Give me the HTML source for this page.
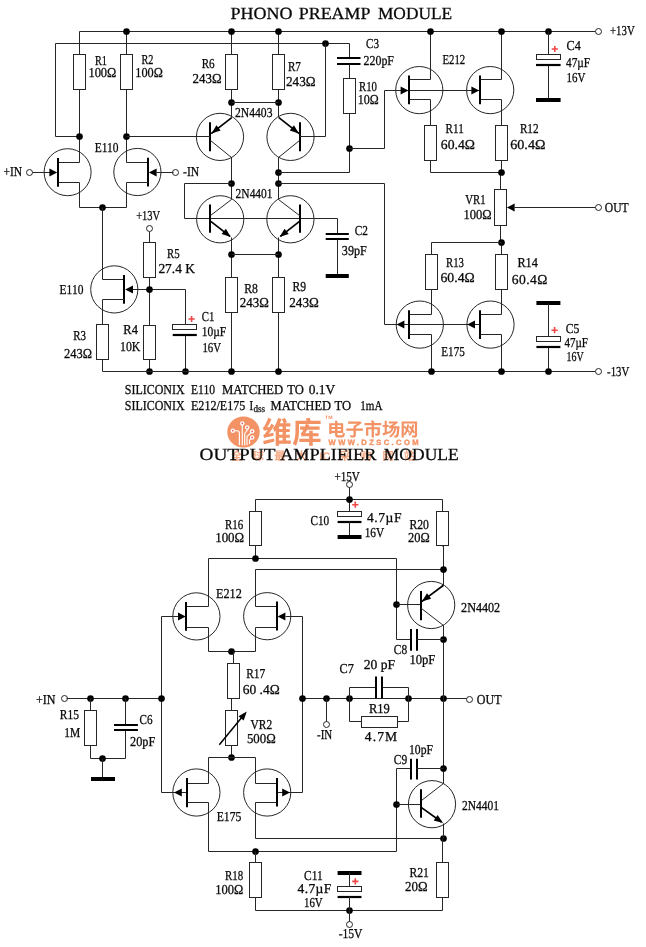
<!DOCTYPE html>
<html><head><meta charset="utf-8"><title>Phono preamp / output amplifier schematic</title>
<style>
html,body{margin:0;padding:0;background:#fff;}
body{width:646px;height:947px;overflow:hidden;}
svg{display:block;will-change:transform;}
svg text{font-family:"Liberation Serif",serif;text-rendering:geometricPrecision;stroke:#0a0a0a;stroke-width:0.28px;}
#logo text{stroke:none;}
</style></head><body>
<svg width="646" height="947" viewBox="0 0 646 947">
<rect width="646" height="947" fill="#fff"/>
<polyline points="79.5,31.5 595.5,31.5" fill="none" stroke="#262626" stroke-width="1"/>
<circle cx="598.5" cy="31.5" r="3" fill="#fff" stroke="#262626" stroke-width="1"/>
<polyline points="79.5,136.5 55.5,136.5 55.5,43.5 349.5,43.5 349.5,58.5" fill="none" stroke="#262626" stroke-width="1"/>
<circle cx="325.5" cy="43.5" r="3.35" fill="#000"/>
<polyline points="79.5,31.5 79.5,162.5 58.5,162.5" fill="none" stroke="#262626" stroke-width="1"/>
<rect x="73.5" y="54.5" width="12" height="35" fill="#fff" stroke="#262626" stroke-width="1"/>
<polyline points="126.5,31.5 126.5,162.5 148.5,162.5" fill="none" stroke="#262626" stroke-width="1"/>
<rect x="120.5" y="54.5" width="12" height="35" fill="#fff" stroke="#262626" stroke-width="1"/>
<circle cx="126.5" cy="31.5" r="3.35" fill="#000"/>
<circle cx="79.5" cy="136.5" r="3.35" fill="#000"/>
<circle cx="126.5" cy="136.5" r="3.35" fill="#000"/>
<circle cx="67.6" cy="172.2" r="23.5" fill="none" stroke="#262626" stroke-width="1"/>
<line x1="58" y1="157.9" x2="58" y2="186.7" stroke="#000" stroke-width="2"/>
<circle cx="137.4" cy="172" r="23.6" fill="none" stroke="#262626" stroke-width="1"/>
<line x1="148" y1="157.7" x2="148" y2="186.6" stroke="#000" stroke-width="2"/>
<polyline points="58.5,182.5 79.5,182.5 79.5,207.5 126.5,207.5 126.5,182.5 148.5,182.5" fill="none" stroke="#262626" stroke-width="1"/>
<circle cx="102.5" cy="207.5" r="3.35" fill="#000"/>
<circle cx="29.5" cy="172.5" r="3" fill="#fff" stroke="#262626" stroke-width="1"/>
<polyline points="32.5,172.5 50.5,172.5" fill="none" stroke="#262626" stroke-width="1"/>
<polygon points="57.2,172.5 49.4,176.4 49.4,168.6" fill="#000"/>
<circle cx="175.5" cy="172.5" r="3" fill="#fff" stroke="#262626" stroke-width="1"/>
<polyline points="173.5,172.5 156.5,172.5" fill="none" stroke="#262626" stroke-width="1"/>
<polygon points="148.8,172.5 156.6,168.6 156.6,176.4" fill="#000"/>
<polyline points="102.5,207.5 102.5,279.5 124.5,279.5" fill="none" stroke="#262626" stroke-width="1"/>
<circle cx="114.3" cy="289.4" r="23.6" fill="none" stroke="#262626" stroke-width="1"/>
<line x1="124" y1="275" x2="124" y2="303.8" stroke="#000" stroke-width="2"/>
<polyline points="124.5,299.5 102.5,299.5 102.5,371.5" fill="none" stroke="#262626" stroke-width="1"/>
<rect x="96.5" y="324.5" width="12" height="35" fill="#fff" stroke="#262626" stroke-width="1"/>
<polygon points="125.2,289.5 133,285.6 133,293.4" fill="#000"/>
<polyline points="132.5,289.5 185.5,289.5 185.5,325.5" fill="none" stroke="#262626" stroke-width="1"/>
<polyline points="149.5,231.5 149.5,371.5" fill="none" stroke="#262626" stroke-width="1"/>
<circle cx="149.5" cy="228.5" r="3" fill="#fff" stroke="#262626" stroke-width="1"/>
<rect x="143.5" y="242.5" width="12" height="35" fill="#fff" stroke="#262626" stroke-width="1"/>
<rect x="143.5" y="325.5" width="12" height="34" fill="#fff" stroke="#262626" stroke-width="1"/>
<circle cx="149.5" cy="289.5" r="3.35" fill="#000"/>
<circle cx="149.5" cy="371.5" r="3.35" fill="#000"/>
<rect x="172.5" y="324.5" width="24" height="5" fill="#fff" stroke="#262626" stroke-width="1"/>
<line x1="172.7" y1="335" x2="196.8" y2="335" stroke="#000" stroke-width="2.2"/>
<polyline points="185.5,335.5 185.5,371.5" fill="none" stroke="#262626" stroke-width="1"/>
<circle cx="185.5" cy="371.5" r="3.35" fill="#000"/>
<path d="M188.5 319H194.7M191.6 315.9V322.1" stroke="#f04646" stroke-width="1.6" fill="none"/>
<polyline points="102.5,371.5 595.5,371.5" fill="none" stroke="#262626" stroke-width="1"/>
<circle cx="598.5" cy="371.5" r="3" fill="#fff" stroke="#262626" stroke-width="1"/>
<polyline points="231.5,31.5 231.5,117.5" fill="none" stroke="#262626" stroke-width="1"/>
<rect x="225.5" y="54.5" width="12" height="35" fill="#fff" stroke="#262626" stroke-width="1"/>
<circle cx="231.5" cy="31.5" r="3.35" fill="#000"/>
<circle cx="231.5" cy="102.5" r="3.35" fill="#000"/>
<polyline points="278.5,31.5 278.5,117.5" fill="none" stroke="#262626" stroke-width="1"/>
<rect x="272.5" y="54.5" width="12" height="35" fill="#fff" stroke="#262626" stroke-width="1"/>
<circle cx="278.5" cy="31.5" r="3.35" fill="#000"/>
<circle cx="278.5" cy="102.5" r="3.35" fill="#000"/>
<polyline points="231.5,102.5 278.5,102.5" fill="none" stroke="#262626" stroke-width="1"/>
<circle cx="220" cy="136.9" r="23.6" fill="none" stroke="#262626" stroke-width="1"/>
<line x1="210" y1="122.3" x2="210" y2="151.3" stroke="#000" stroke-width="2"/>
<polyline points="126.5,136.5 210.5,136.5" fill="none" stroke="#262626" stroke-width="1"/>
<line x1="231.7" y1="117.7" x2="211.2" y2="133.6" stroke="#000" stroke-width="1.7"/>
<polygon points="211.5,133.4 216.43,125.14 220.66,130.46" fill="#000"/>
<polyline points="210.5,140.5 231.5,157.5 231.5,199.5" fill="none" stroke="#262626" stroke-width="1"/>
<circle cx="290.5" cy="136.9" r="23.6" fill="none" stroke="#262626" stroke-width="1"/>
<line x1="300" y1="122.3" x2="300" y2="151.3" stroke="#000" stroke-width="2"/>
<polyline points="299.5,136.5 325.5,136.5 325.5,43.5" fill="none" stroke="#262626" stroke-width="1"/>
<line x1="278.9" y1="117.7" x2="299.2" y2="133.6" stroke="#000" stroke-width="1.7"/>
<polygon points="298.9,133.4 289.74,130.46 293.97,125.14" fill="#000"/>
<polyline points="299.5,140.5 278.5,157.5 278.5,199.5" fill="none" stroke="#262626" stroke-width="1"/>
<circle cx="231.5" cy="183.5" r="3.35" fill="#000"/>
<circle cx="278.5" cy="172.5" r="3.35" fill="#000"/>
<circle cx="278.5" cy="183.5" r="3.35" fill="#000"/>
<line x1="337" y1="58" x2="360.5" y2="58" stroke="#000" stroke-width="2"/>
<line x1="337" y1="64" x2="360.5" y2="64" stroke="#000" stroke-width="2"/>
<polyline points="349.5,64.5 349.5,172.5 278.5,172.5" fill="none" stroke="#262626" stroke-width="1"/>
<rect x="343.5" y="78.5" width="12" height="35" fill="#fff" stroke="#262626" stroke-width="1"/>
<circle cx="349.5" cy="148.5" r="3.35" fill="#000"/>
<polyline points="349.5,148.5 384.5,148.5 384.5,90.5 480.5,90.5" fill="none" stroke="#262626" stroke-width="1"/>
<polyline points="278.5,183.5 384.5,183.5 384.5,324.5 480.5,324.5" fill="none" stroke="#262626" stroke-width="1"/>
<polyline points="231.5,183.5 184.5,183.5 184.5,218.5 337.5,218.5 337.5,233.5" fill="none" stroke="#262626" stroke-width="1"/>
<line x1="325.7" y1="234" x2="348.8" y2="234" stroke="#000" stroke-width="2"/>
<line x1="325.7" y1="239" x2="348.8" y2="239" stroke="#000" stroke-width="2"/>
<polyline points="337.5,239.5 337.5,275.5" fill="none" stroke="#262626" stroke-width="1"/>
<line x1="325.7" y1="276" x2="348.8" y2="276" stroke="#000" stroke-width="4"/>
<circle cx="220.2" cy="219.3" r="23.6" fill="none" stroke="#262626" stroke-width="1"/>
<line x1="210" y1="204.6" x2="210" y2="232.8" stroke="#000" stroke-width="2"/>
<polyline points="210.5,215.5 231.5,199.5" fill="none" stroke="#262626" stroke-width="1"/>
<line x1="210.8" y1="221.3" x2="230" y2="236.3" stroke="#000" stroke-width="1.7"/>
<polyline points="231.5,237.5 231.5,371.5" fill="none" stroke="#262626" stroke-width="1"/>
<polygon points="230.8,237 221.63,234.08 225.85,228.75" fill="#000"/>
<circle cx="290.4" cy="219.3" r="23.6" fill="none" stroke="#262626" stroke-width="1"/>
<line x1="300" y1="204.6" x2="300" y2="232.8" stroke="#000" stroke-width="2"/>
<polyline points="299.5,215.5 278.5,199.5" fill="none" stroke="#262626" stroke-width="1"/>
<line x1="299.5" y1="221.3" x2="280.4" y2="236.3" stroke="#000" stroke-width="1.7"/>
<polyline points="278.5,237.5 278.5,371.5" fill="none" stroke="#262626" stroke-width="1"/>
<polygon points="279.6,237 284.55,228.75 288.77,234.08" fill="#000"/>
<circle cx="231.5" cy="254.5" r="3.35" fill="#000"/>
<circle cx="278.5" cy="254.5" r="3.35" fill="#000"/>
<polyline points="231.5,254.5 278.5,254.5" fill="none" stroke="#262626" stroke-width="1"/>
<rect x="225.5" y="277.5" width="12" height="35" fill="#fff" stroke="#262626" stroke-width="1"/>
<rect x="272.5" y="277.5" width="12" height="35" fill="#fff" stroke="#262626" stroke-width="1"/>
<circle cx="231.5" cy="371.5" r="3.35" fill="#000"/>
<circle cx="278.5" cy="371.5" r="3.35" fill="#000"/>
<circle cx="419.3" cy="90.1" r="23.6" fill="none" stroke="#262626" stroke-width="1"/>
<line x1="409" y1="75.6" x2="409" y2="104.2" stroke="#000" stroke-width="2"/>
<polyline points="409.5,79.5 430.5,79.5 430.5,31.5" fill="none" stroke="#262626" stroke-width="1"/>
<circle cx="430.5" cy="31.5" r="3.35" fill="#000"/>
<polyline points="409.5,99.5 430.5,99.5 430.5,172.5 501.5,172.5" fill="none" stroke="#262626" stroke-width="1"/>
<rect x="424.5" y="125.5" width="12" height="35" fill="#fff" stroke="#262626" stroke-width="1"/>
<polygon points="408.4,90.5 400.6,94.4 400.6,86.6" fill="#000"/>
<circle cx="490.2" cy="90.1" r="23.6" fill="none" stroke="#262626" stroke-width="1"/>
<line x1="480" y1="75.6" x2="480" y2="104.2" stroke="#000" stroke-width="2"/>
<polyline points="480.5,79.5 501.5,79.5 501.5,31.5" fill="none" stroke="#262626" stroke-width="1"/>
<circle cx="501.5" cy="31.5" r="3.35" fill="#000"/>
<polyline points="480.5,99.5 501.5,99.5 501.5,172.5" fill="none" stroke="#262626" stroke-width="1"/>
<polyline points="500.5,172.5 500.5,242.5" fill="none" stroke="#262626" stroke-width="1"/>
<polyline points="501.5,242.5 501.5,314.5 480.5,314.5" fill="none" stroke="#262626" stroke-width="1"/>
<rect x="495.5" y="125.5" width="12" height="35" fill="#fff" stroke="#262626" stroke-width="1"/>
<polygon points="479.2,90.5 471.4,94.4 471.4,86.6" fill="#000"/>
<circle cx="501.5" cy="172.5" r="3.35" fill="#000"/>
<circle cx="501.5" cy="242.5" r="3.35" fill="#000"/>
<rect x="494.5" y="189.5" width="12" height="36" fill="#fff" stroke="#262626" stroke-width="1"/>
<polygon points="506.8,207.5 514.6,203.6 514.6,211.4" fill="#000"/>
<polyline points="514.5,207.5 595.5,207.5" fill="none" stroke="#262626" stroke-width="1"/>
<circle cx="598.5" cy="207.5" r="3" fill="#fff" stroke="#262626" stroke-width="1"/>
<polyline points="501.5,242.5 431.5,242.5 431.5,314.5 409.5,314.5" fill="none" stroke="#262626" stroke-width="1"/>
<rect x="425.5" y="254.5" width="12" height="35" fill="#fff" stroke="#262626" stroke-width="1"/>
<rect x="495.5" y="254.5" width="12" height="35" fill="#fff" stroke="#262626" stroke-width="1"/>
<circle cx="419.8" cy="324.6" r="23.6" fill="none" stroke="#262626" stroke-width="1"/>
<line x1="409" y1="310.2" x2="409" y2="339" stroke="#000" stroke-width="2"/>
<polyline points="409.5,334.5 431.5,334.5 431.5,371.5" fill="none" stroke="#262626" stroke-width="1"/>
<circle cx="431.5" cy="371.5" r="3.35" fill="#000"/>
<polygon points="396.6,324.5 404.4,320.6 404.4,328.4" fill="#000"/>
<circle cx="490.5" cy="324.6" r="23.6" fill="none" stroke="#262626" stroke-width="1"/>
<line x1="480" y1="310.2" x2="480" y2="339" stroke="#000" stroke-width="2"/>
<polyline points="480.5,334.5 501.5,334.5 501.5,371.5" fill="none" stroke="#262626" stroke-width="1"/>
<circle cx="501.5" cy="371.5" r="3.35" fill="#000"/>
<polygon points="467.2,324.5 475,320.6 475,328.4" fill="#000"/>
<circle cx="548.5" cy="31.5" r="3.35" fill="#000"/>
<polyline points="548.5,31.5 548.5,54.5" fill="none" stroke="#262626" stroke-width="1"/>
<rect x="536.5" y="54.5" width="24" height="5" fill="#fff" stroke="#262626" stroke-width="1"/>
<line x1="536" y1="65" x2="560.6" y2="65" stroke="#000" stroke-width="2.2"/>
<polyline points="548.5,65.5 548.5,99.5" fill="none" stroke="#262626" stroke-width="1"/>
<line x1="536" y1="100" x2="560.6" y2="100" stroke="#000" stroke-width="4"/>
<path d="M551.7 49H557.9M554.8 45.9V52.1" stroke="#f04646" stroke-width="1.6" fill="none"/>
<line x1="536.4" y1="303" x2="560.4" y2="303" stroke="#000" stroke-width="4"/>
<polyline points="548.5,303.5 548.5,336.5" fill="none" stroke="#262626" stroke-width="1"/>
<rect x="536.5" y="336.5" width="24" height="5" fill="#fff" stroke="#262626" stroke-width="1"/>
<line x1="536.4" y1="347" x2="560.4" y2="347" stroke="#000" stroke-width="2.2"/>
<polyline points="548.5,347.5 548.5,371.5" fill="none" stroke="#262626" stroke-width="1"/>
<circle cx="548.5" cy="371.5" r="3.35" fill="#000"/>
<path d="M551.5 330.2H557.7M554.6 327.1V333.3" stroke="#f04646" stroke-width="1.6" fill="none"/>
<text x="230.4" y="19.41" font-size="17" textLength="62" lengthAdjust="spacingAndGlyphs" fill="#0a0a0a">PHONO</text>
<text x="298.8" y="19.41" font-size="17" textLength="71.6" lengthAdjust="spacingAndGlyphs" fill="#0a0a0a">PREAMP</text>
<text x="377.9" y="19.41" font-size="17" textLength="74.3" lengthAdjust="spacingAndGlyphs" fill="#0a0a0a">MODULE</text>
<text x="94.9" y="64.89" font-size="13.6" textLength="12" lengthAdjust="spacingAndGlyphs" fill="#0a0a0a">R1</text>
<text x="88.4" y="77.09" font-size="13.6" textLength="28" lengthAdjust="spacingAndGlyphs" fill="#0a0a0a">100Ω</text>
<text x="141.4" y="64.09" font-size="13.6" textLength="12" lengthAdjust="spacingAndGlyphs" fill="#0a0a0a">R2</text>
<text x="135.3" y="77.09" font-size="13.6" textLength="27.5" lengthAdjust="spacingAndGlyphs" fill="#0a0a0a">100Ω</text>
<text x="201.7" y="68.19" font-size="13.6" textLength="13" lengthAdjust="spacingAndGlyphs" fill="#0a0a0a">R6</text>
<text x="192.5" y="83.49" font-size="13.6" textLength="29" lengthAdjust="spacingAndGlyphs" fill="#0a0a0a">243Ω</text>
<text x="287.9" y="70.89" font-size="13.6" textLength="13" lengthAdjust="spacingAndGlyphs" fill="#0a0a0a">R7</text>
<text x="286" y="86.19" font-size="13.6" textLength="29.6" lengthAdjust="spacingAndGlyphs" fill="#0a0a0a">243Ω</text>
<text x="235" y="116.79" font-size="13.6" textLength="37.5" lengthAdjust="spacingAndGlyphs" fill="#0a0a0a">2N4403</text>
<text x="235.6" y="198.39" font-size="13.6" textLength="37" lengthAdjust="spacingAndGlyphs" fill="#0a0a0a">2N4401</text>
<text x="366" y="47.79" font-size="13.6" textLength="13" lengthAdjust="spacingAndGlyphs" fill="#0a0a0a">C3</text>
<text x="363.5" y="65.09" font-size="13.6" textLength="30.5" lengthAdjust="spacingAndGlyphs" fill="#0a0a0a">220pF</text>
<text x="359" y="91.39" font-size="13.6" textLength="18" lengthAdjust="spacingAndGlyphs" fill="#0a0a0a">R10</text>
<text x="357.7" y="104.29" font-size="13.6" textLength="21" lengthAdjust="spacingAndGlyphs" fill="#0a0a0a">10Ω</text>
<text x="94.7" y="151.69" font-size="13.6" textLength="23.8" lengthAdjust="spacingAndGlyphs" fill="#0a0a0a">E110</text>
<text x="3.4" y="176.49" font-size="13.6" textLength="18.7" lengthAdjust="spacingAndGlyphs" fill="#0a0a0a">+IN</text>
<text x="183" y="176.49" font-size="13.6" textLength="16.2" lengthAdjust="spacingAndGlyphs" fill="#0a0a0a">-IN</text>
<text x="136.2" y="220.19" font-size="13.6" textLength="24" lengthAdjust="spacingAndGlyphs" fill="#0a0a0a">+13V</text>
<text x="167" y="258.09" font-size="13.6" textLength="12.6" lengthAdjust="spacingAndGlyphs" fill="#0a0a0a">R5</text>
<text x="158.4" y="273.49" font-size="13.6" textLength="36.6" lengthAdjust="spacingAndGlyphs" fill="#0a0a0a">27.4 K</text>
<text x="59.6" y="294.49" font-size="13.6" textLength="23.8" lengthAdjust="spacingAndGlyphs" fill="#0a0a0a">E110</text>
<text x="73.2" y="340.49" font-size="13.6" textLength="12.8" lengthAdjust="spacingAndGlyphs" fill="#0a0a0a">R3</text>
<text x="64" y="358.29" font-size="13.6" textLength="28" lengthAdjust="spacingAndGlyphs" fill="#0a0a0a">243Ω</text>
<text x="123.3" y="333.69" font-size="13.6" textLength="14.6" lengthAdjust="spacingAndGlyphs" fill="#0a0a0a">R4</text>
<text x="120" y="351.09" font-size="13.6" textLength="20.4" lengthAdjust="spacingAndGlyphs" fill="#0a0a0a">10K</text>
<text x="201.7" y="320.89" font-size="13.6" textLength="12.6" lengthAdjust="spacingAndGlyphs" fill="#0a0a0a">C1</text>
<text x="201.7" y="336.19" font-size="13.6" textLength="24.5" lengthAdjust="spacingAndGlyphs" fill="#0a0a0a">10µF</text>
<text x="202.4" y="352.19" font-size="13.6" textLength="18.6" lengthAdjust="spacingAndGlyphs" fill="#0a0a0a">16V</text>
<text x="354.8" y="234.99" font-size="13.6" textLength="13.2" lengthAdjust="spacingAndGlyphs" fill="#0a0a0a">C2</text>
<text x="341.8" y="255.19" font-size="13.6" textLength="25" lengthAdjust="spacingAndGlyphs" fill="#0a0a0a">39pF</text>
<text x="244.2" y="292.59" font-size="13.6" textLength="13.7" lengthAdjust="spacingAndGlyphs" fill="#0a0a0a">R8</text>
<text x="239.8" y="307.29" font-size="13.6" textLength="29" lengthAdjust="spacingAndGlyphs" fill="#0a0a0a">243Ω</text>
<text x="292.6" y="290.89" font-size="13.6" textLength="13.6" lengthAdjust="spacingAndGlyphs" fill="#0a0a0a">R9</text>
<text x="289.2" y="307.29" font-size="13.6" textLength="29.6" lengthAdjust="spacingAndGlyphs" fill="#0a0a0a">243Ω</text>
<text x="442.4" y="64.39" font-size="13.6" textLength="22.8" lengthAdjust="spacingAndGlyphs" fill="#0a0a0a">E212</text>
<text x="445.6" y="133.29" font-size="13.6" textLength="18.1" lengthAdjust="spacingAndGlyphs" fill="#0a0a0a">R11</text>
<text x="440.8" y="149.09" font-size="13.6" textLength="34.1" lengthAdjust="spacingAndGlyphs" fill="#0a0a0a">60.4Ω</text>
<text x="519.9" y="133.29" font-size="13.6" textLength="18.7" lengthAdjust="spacingAndGlyphs" fill="#0a0a0a">R12</text>
<text x="510.3" y="149.09" font-size="13.6" textLength="35.1" lengthAdjust="spacingAndGlyphs" fill="#0a0a0a">60.4Ω</text>
<text x="465.2" y="204.29" font-size="13.6" textLength="20.4" lengthAdjust="spacingAndGlyphs" fill="#0a0a0a">VR1</text>
<text x="463.5" y="219.29" font-size="13.6" textLength="28.2" lengthAdjust="spacingAndGlyphs" fill="#0a0a0a">100Ω</text>
<text x="604.8" y="212.29" font-size="13.6" textLength="23.9" lengthAdjust="spacingAndGlyphs" fill="#0a0a0a">OUT</text>
<text x="446" y="267.19" font-size="13.6" textLength="18" lengthAdjust="spacingAndGlyphs" fill="#0a0a0a">R13</text>
<text x="440.5" y="282.19" font-size="13.6" textLength="34.2" lengthAdjust="spacingAndGlyphs" fill="#0a0a0a">60.4Ω</text>
<text x="517.4" y="267.19" font-size="13.6" textLength="20.5" lengthAdjust="spacingAndGlyphs" fill="#0a0a0a">R14</text>
<text x="511.8" y="284.29" font-size="13.6" textLength="35.5" lengthAdjust="spacing" fill="#0a0a0a">60.4Ω</text>
<text x="441.3" y="356.09" font-size="13.6" textLength="23.5" lengthAdjust="spacingAndGlyphs" fill="#0a0a0a">E175</text>
<text x="565.7" y="333.49" font-size="13.6" textLength="13.7" lengthAdjust="spacingAndGlyphs" fill="#0a0a0a">C5</text>
<text x="564.4" y="347.49" font-size="13.6" textLength="23.5" lengthAdjust="spacingAndGlyphs" fill="#0a0a0a">47µF</text>
<text x="566.5" y="361.19" font-size="13.6" textLength="17.1" lengthAdjust="spacingAndGlyphs" fill="#0a0a0a">16V</text>
<text x="607.1" y="375.89" font-size="13.6" textLength="22.2" lengthAdjust="spacingAndGlyphs" fill="#0a0a0a">-13V</text>
<text x="610" y="35.49" font-size="13.6" textLength="24.7" lengthAdjust="spacingAndGlyphs" fill="#0a0a0a">+13V</text>
<text x="566.5" y="50.29" font-size="13.6" textLength="14.3" lengthAdjust="spacingAndGlyphs" fill="#0a0a0a">C4</text>
<text x="566" y="67.19" font-size="13.6" textLength="24.1" lengthAdjust="spacingAndGlyphs" fill="#0a0a0a">47µF</text>
<text x="566.5" y="81.99" font-size="13.6" textLength="18.9" lengthAdjust="spacingAndGlyphs" fill="#0a0a0a">16V</text>
<text x="124.8" y="394.29" font-size="13.6" textLength="59.8" lengthAdjust="spacingAndGlyphs" fill="#0a0a0a">SILICONIX</text>
<text x="191" y="394.29" font-size="13.6" textLength="24" lengthAdjust="spacingAndGlyphs" fill="#0a0a0a">E110</text>
<text x="221.9" y="394.29" font-size="13.6" textLength="61.4" lengthAdjust="spacingAndGlyphs" fill="#0a0a0a">MATCHED</text>
<text x="287.2" y="394.29" font-size="13.6" textLength="16.6" lengthAdjust="spacingAndGlyphs" fill="#0a0a0a">TO</text>
<text x="308.8" y="394.29" font-size="13.6" textLength="26.4" lengthAdjust="spacingAndGlyphs" fill="#0a0a0a">0.1V</text>
<text x="124.8" y="409.69" font-size="13.6" textLength="59.8" lengthAdjust="spacingAndGlyphs" fill="#0a0a0a">SILICONIX</text>
<text x="191" y="409.69" font-size="13.6" textLength="54.3" lengthAdjust="spacingAndGlyphs" fill="#0a0a0a">E212/E175</text>
<text x="249.6" y="409.69" font-size="13.6" textLength="3.6" lengthAdjust="spacingAndGlyphs" fill="#0a0a0a">I</text>
<text x="253.4" y="411.5" font-size="10" textLength="11.6" lengthAdjust="spacingAndGlyphs" fill="#0a0a0a">dss</text>
<text x="270.5" y="409.69" font-size="13.6" textLength="60.6" lengthAdjust="spacingAndGlyphs" fill="#0a0a0a">MATCHED</text>
<text x="334.6" y="409.69" font-size="13.6" textLength="16.6" lengthAdjust="spacingAndGlyphs" fill="#0a0a0a">TO</text>
<text x="360.3" y="409.69" font-size="13.6" textLength="22.2" lengthAdjust="spacingAndGlyphs" fill="#0a0a0a">1mA</text>
<g id="logo">
<ellipse cx="243.5" cy="432" rx="16.2" ry="15.5" fill="#f39264"/>
<text x="262.2 292.2" y="443.2" font-size="29.5" font-weight="bold" fill="#f39264" style="font-family:'Liberation Sans','Noto Sans CJK SC',sans-serif">维库</text>
<text x="327.2 345.45 363.7 381.95 400.2" y="436.1" font-size="18.2" font-weight="bold" fill="#f39264" style="font-family:'Liberation Sans','Noto Sans CJK SC',sans-serif">电子市场网</text>
<text x="328.6" y="445.3" font-size="7.6" font-weight="bold" fill="#f39264" style="font-family:'Liberation Sans',sans-serif;stroke:#f39264;stroke-width:0.35px" textLength="90" lengthAdjust="spacing">WWW.DZSC.COM</text>
<text x="325" y="418.9" textLength="7.6" lengthAdjust="spacingAndGlyphs" font-size="4.6" font-weight="bold" fill="#f39264" style="font-family:'Liberation Sans',sans-serif">TM</text>
<text x="231 252.6 274.2 295.8" y="460.2" font-size="11.5" font-weight="bold" fill="#f39264" fill-opacity="0.8" style="font-family:'Liberation Sans','Noto Sans CJK SC',sans-serif">全球最大</text>
<text x="319.4" y="460" font-size="11" font-weight="bold" fill="#f39264" fill-opacity="0.8" style="font-family:'Liberation Sans',sans-serif">IC</text>
<text x="339 360.6 382.2 403.8" y="460.2" font-size="11.5" font-weight="bold" fill="#f39264" fill-opacity="0.8" style="font-family:'Liberation Sans','Noto Sans CJK SC',sans-serif">采购网站</text>
<g stroke="#fff" stroke-width="1.15" fill="none" stroke-linecap="round" stroke-linejoin="round"><path d="M234.8 430.7H237Q239.4 430.7 239.4 433.5V444.7"/><path d="M242.3 425.5V444.9"/><path d="M247.2 429.5V430.3L244.7 433.5V444.9"/><path d="M250.8 432.8L247 436.5V444.7"/><path d="M251 438.6L249.5 440.2V443.6"/></g>
<circle cx="232.8" cy="430.7" r="2.25" fill="#fff"/><circle cx="232.8" cy="430.7" r="0.85" fill="#ec5c5c"/>
<circle cx="242.3" cy="423.4" r="2.25" fill="#fff"/><circle cx="242.3" cy="423.4" r="0.85" fill="#ec5c5c"/>
<circle cx="247.2" cy="427.4" r="2.25" fill="#fff"/><circle cx="247.2" cy="427.4" r="0.85" fill="#ec5c5c"/>
<circle cx="252.2" cy="431.3" r="2.25" fill="#fff"/><circle cx="252.2" cy="431.3" r="0.85" fill="#ec5c5c"/>
<circle cx="252.2" cy="437.4" r="2.25" fill="#fff"/><circle cx="252.2" cy="437.4" r="0.85" fill="#ec5c5c"/>
</g>
<text x="199.5" y="460.31" font-size="17" textLength="75.9" lengthAdjust="spacingAndGlyphs" fill="#0a0a0a">OUTPUT</text>
<text x="280.2" y="460.31" font-size="17" textLength="96.2" lengthAdjust="spacingAndGlyphs" fill="#0a0a0a">AMPLIFIER</text>
<text x="383.8" y="460.31" font-size="17" textLength="74.9" lengthAdjust="spacingAndGlyphs" fill="#0a0a0a">MODULE</text>
<text x="334.4" y="480.69" font-size="13.6" textLength="25.4" lengthAdjust="spacingAndGlyphs" fill="#0a0a0a">+15V</text>
<circle cx="349.5" cy="484.5" r="3" fill="#fff" stroke="#262626" stroke-width="1"/>
<polyline points="349.5,487.5 349.5,511.5" fill="none" stroke="#262626" stroke-width="1"/>
<polyline points="255.5,558.5 255.5,499.5 442.5,499.5 442.5,546.5" fill="none" stroke="#262626" stroke-width="1"/>
<polyline points="443.5,545.5 443.5,585.5" fill="none" stroke="#262626" stroke-width="1"/>
<circle cx="349.5" cy="499.5" r="3.35" fill="#000"/>
<rect x="249.5" y="511.5" width="12" height="34" fill="#fff" stroke="#262626" stroke-width="1"/>
<rect x="436.5" y="511.5" width="12" height="34" fill="#fff" stroke="#262626" stroke-width="1"/>
<rect x="337.5" y="511.5" width="24" height="5" fill="#fff" stroke="#262626" stroke-width="1"/>
<line x1="337.6" y1="522" x2="361.5" y2="522" stroke="#000" stroke-width="2.2"/>
<polyline points="349.5,521.5 349.5,536.5" fill="none" stroke="#262626" stroke-width="1"/>
<line x1="337.6" y1="537" x2="361.5" y2="537" stroke="#000" stroke-width="4"/>
<path d="M352.2 504.7H358.4M355.3 501.6V507.8" stroke="#f04646" stroke-width="1.6" fill="none"/>
<polyline points="186.5,606.5 208.5,606.5 208.5,558.5 396.5,558.5 396.5,639.5 411.5,639.5" fill="none" stroke="#262626" stroke-width="1"/>
<circle cx="255.5" cy="558.5" r="3.35" fill="#000"/>
<polyline points="276.5,606.5 255.5,606.5 255.5,569.5 443.5,569.5" fill="none" stroke="#262626" stroke-width="1"/>
<circle cx="443.5" cy="569.5" r="3.35" fill="#000"/>
<circle cx="396.5" cy="604.5" r="3.35" fill="#000"/>
<polyline points="396.5,604.5 420.5,604.5" fill="none" stroke="#262626" stroke-width="1"/>
<circle cx="196.4" cy="616.4" r="23.6" fill="none" stroke="#262626" stroke-width="1"/>
<line x1="186" y1="602" x2="186" y2="630.8" stroke="#000" stroke-width="2"/>
<circle cx="267.2" cy="616.2" r="23.6" fill="none" stroke="#262626" stroke-width="1"/>
<line x1="277" y1="601.6" x2="277" y2="630.6" stroke="#000" stroke-width="2"/>
<polyline points="186.5,627.5 208.5,627.5 208.5,651.5 255.5,651.5 255.5,627.5 276.5,627.5" fill="none" stroke="#262626" stroke-width="1"/>
<circle cx="231.5" cy="651.5" r="3.35" fill="#000"/>
<polygon points="185.8,616.5 178,620.4 178,612.6" fill="#000"/>
<polyline points="178.5,616.5 161.5,616.5 161.5,792.5 187.5,792.5" fill="none" stroke="#262626" stroke-width="1"/>
<polygon points="277.6,616.5 285.4,612.6 285.4,620.4" fill="#000"/>
<polyline points="285.5,616.5 302.5,616.5 302.5,792.5 276.5,792.5" fill="none" stroke="#262626" stroke-width="1"/>
<polyline points="233.5,651.5 233.5,664.5" fill="none" stroke="#262626" stroke-width="1"/>
<polyline points="231.5,697.5 231.5,757.5" fill="none" stroke="#262626" stroke-width="1"/>
<rect x="227.5" y="663.5" width="12" height="35" fill="#fff" stroke="#262626" stroke-width="1"/>
<rect x="225.5" y="710.5" width="12" height="35" fill="#fff" stroke="#262626" stroke-width="1"/>
<line x1="219.3" y1="744.8" x2="244.6" y2="714" stroke="#000" stroke-width="1.5"/>
<polygon points="246.8,711.4 243.65,720.46 238.55,716.28" fill="#000"/>
<circle cx="231.5" cy="757.5" r="3.35" fill="#000"/>
<polyline points="187.5,783.5 208.5,783.5 208.5,757.5 255.5,757.5 255.5,783.5 276.5,783.5" fill="none" stroke="#262626" stroke-width="1"/>
<circle cx="196.4" cy="792.5" r="23.6" fill="none" stroke="#262626" stroke-width="1"/>
<line x1="187" y1="778.1" x2="187" y2="807.2" stroke="#000" stroke-width="2"/>
<circle cx="267.2" cy="792.5" r="23.6" fill="none" stroke="#262626" stroke-width="1"/>
<line x1="277" y1="778.1" x2="277" y2="806.6" stroke="#000" stroke-width="2"/>
<polyline points="187.5,802.5 208.5,802.5 208.5,851.5 396.5,851.5 396.5,768.5 411.5,768.5" fill="none" stroke="#262626" stroke-width="1"/>
<circle cx="255.5" cy="851.5" r="3.35" fill="#000"/>
<circle cx="396.5" cy="804.5" r="3.35" fill="#000"/>
<polyline points="276.5,802.5 255.5,802.5 255.5,838.5 443.5,838.5" fill="none" stroke="#262626" stroke-width="1"/>
<circle cx="443.5" cy="838.5" r="3.35" fill="#000"/>
<polygon points="174,792.5 181.8,788.6 181.8,796.4" fill="#000"/>
<polygon points="290,792.5 282.2,796.4 282.2,788.6" fill="#000"/>
<text x="36" y="704.09" font-size="13.6" textLength="19.5" lengthAdjust="spacingAndGlyphs" fill="#0a0a0a">+IN</text>
<circle cx="64.5" cy="698.5" r="3" fill="#fff" stroke="#262626" stroke-width="1"/>
<polyline points="66.5,698.5 161.5,698.5" fill="none" stroke="#262626" stroke-width="1"/>
<circle cx="161.5" cy="698.5" r="3.35" fill="#000"/>
<circle cx="90.5" cy="698.5" r="3.35" fill="#000"/>
<circle cx="125.5" cy="698.5" r="3.35" fill="#000"/>
<polyline points="90.5,698.5 90.5,758.5 125.5,758.5 125.5,730.5" fill="none" stroke="#262626" stroke-width="1"/>
<rect x="84.5" y="710.5" width="12" height="35" fill="#fff" stroke="#262626" stroke-width="1"/>
<polyline points="125.5,698.5 125.5,724.5" fill="none" stroke="#262626" stroke-width="1"/>
<line x1="114" y1="725" x2="137.9" y2="725" stroke="#000" stroke-width="2"/>
<line x1="114" y1="730" x2="137.9" y2="730" stroke="#000" stroke-width="2"/>
<circle cx="102.5" cy="758.5" r="3.35" fill="#000"/>
<polyline points="102.5,758.5 102.5,779.5" fill="none" stroke="#262626" stroke-width="1"/>
<line x1="91" y1="779" x2="115" y2="779" stroke="#000" stroke-width="4"/>
<polyline points="302.5,698.5 467.5,698.5" fill="none" stroke="#262626" stroke-width="1"/>
<circle cx="469.5" cy="699.5" r="3" fill="#fff" stroke="#262626" stroke-width="1"/>
<circle cx="302.5" cy="698.5" r="3.35" fill="#000"/>
<circle cx="326.5" cy="698.5" r="3.35" fill="#000"/>
<circle cx="349.5" cy="698.5" r="3.35" fill="#000"/>
<circle cx="408.5" cy="698.5" r="3.35" fill="#000"/>
<circle cx="443.5" cy="698.5" r="3.35" fill="#000"/>
<polyline points="326.5,698.5 326.5,722.5" fill="none" stroke="#262626" stroke-width="1"/>
<circle cx="326.5" cy="724.5" r="3" fill="#fff" stroke="#262626" stroke-width="1"/>
<polyline points="349.5,721.5 349.5,687.5 376.5,687.5" fill="none" stroke="#262626" stroke-width="1"/>
<line x1="376" y1="676.4" x2="376" y2="698.2" stroke="#000" stroke-width="2"/>
<line x1="382" y1="676.4" x2="382" y2="698.2" stroke="#000" stroke-width="2"/>
<polyline points="382.5,687.5 408.5,687.5 408.5,721.5" fill="none" stroke="#262626" stroke-width="1"/>
<polyline points="349.5,721.5 408.5,721.5" fill="none" stroke="#262626" stroke-width="1"/>
<rect x="361.5" y="716.5" width="36" height="11" fill="#fff" stroke="#262626" stroke-width="1"/>
<circle cx="431.2" cy="605" r="23.6" fill="none" stroke="#262626" stroke-width="1"/>
<line x1="421" y1="591" x2="421" y2="620.2" stroke="#000" stroke-width="2"/>
<line x1="443.5" y1="585.2" x2="421.6" y2="601.6" stroke="#000" stroke-width="1.7"/>
<polygon points="421.9,601.4 427.04,593.26 431.13,598.69" fill="#000"/>
<polyline points="421.5,608.5 443.5,625.5 443.5,783.5" fill="none" stroke="#262626" stroke-width="1"/>
<circle cx="443.5" cy="639.5" r="3.35" fill="#000"/>
<circle cx="443.5" cy="768.5" r="3.35" fill="#000"/>
<line x1="411" y1="629" x2="411" y2="650.8" stroke="#000" stroke-width="2"/>
<line x1="417" y1="629" x2="417" y2="650.8" stroke="#000" stroke-width="2"/>
<polyline points="416.5,639.5 443.5,639.5" fill="none" stroke="#262626" stroke-width="1"/>
<line x1="411" y1="758.8" x2="411" y2="779.6" stroke="#000" stroke-width="2"/>
<line x1="417" y1="758.8" x2="417" y2="779.6" stroke="#000" stroke-width="2"/>
<polyline points="416.5,768.5 443.5,768.5" fill="none" stroke="#262626" stroke-width="1"/>
<circle cx="432" cy="804.2" r="23.6" fill="none" stroke="#262626" stroke-width="1"/>
<line x1="421" y1="789.3" x2="421" y2="817.7" stroke="#000" stroke-width="2"/>
<polyline points="396.5,804.5 420.5,804.5" fill="none" stroke="#262626" stroke-width="1"/>
<polyline points="421.5,800.5 443.5,783.5" fill="none" stroke="#262626" stroke-width="1"/>
<line x1="421.2" y1="807.4" x2="441.6" y2="822" stroke="#000" stroke-width="1.7"/>
<polyline points="443.5,823.5 443.5,838.5" fill="none" stroke="#262626" stroke-width="1"/>
<polyline points="442.5,838.5 442.5,910.5" fill="none" stroke="#262626" stroke-width="1"/>
<polygon points="443,823 433.69,820.56 437.64,815.01" fill="#000"/>
<rect x="436.5" y="862.5" width="12" height="35" fill="#fff" stroke="#262626" stroke-width="1"/>
<polyline points="255.5,851.5 255.5,910.5 442.5,910.5" fill="none" stroke="#262626" stroke-width="1"/>
<rect x="249.5" y="862.5" width="12" height="35" fill="#fff" stroke="#262626" stroke-width="1"/>
<circle cx="349.5" cy="910.5" r="3.35" fill="#000"/>
<polyline points="349.5,910.5 349.5,922.5" fill="none" stroke="#262626" stroke-width="1"/>
<circle cx="349.5" cy="924.5" r="3" fill="#fff" stroke="#262626" stroke-width="1"/>
<line x1="337.6" y1="873" x2="361.5" y2="873" stroke="#000" stroke-width="4"/>
<polyline points="349.5,872.5 349.5,886.5" fill="none" stroke="#262626" stroke-width="1"/>
<rect x="337.5" y="886.5" width="24" height="5" fill="#fff" stroke="#262626" stroke-width="1"/>
<line x1="337.6" y1="897" x2="361.5" y2="897" stroke="#000" stroke-width="2.2"/>
<polyline points="349.5,896.5 349.5,910.5" fill="none" stroke="#262626" stroke-width="1"/>
<path d="M352.2 881.4H358.4M355.3 878.3V884.5" stroke="#f04646" stroke-width="1.6" fill="none"/>
<text x="225.1" y="528.69" font-size="13.6" textLength="18.2" lengthAdjust="spacingAndGlyphs" fill="#0a0a0a">R16</text>
<text x="215.2" y="542.49" font-size="13.6" textLength="29" lengthAdjust="spacingAndGlyphs" fill="#0a0a0a">100Ω</text>
<text x="409.4" y="528.69" font-size="13.6" textLength="19.5" lengthAdjust="spacingAndGlyphs" fill="#0a0a0a">R20</text>
<text x="408" y="542.49" font-size="13.6" textLength="21.7" lengthAdjust="spacingAndGlyphs" fill="#0a0a0a">20Ω</text>
<text x="310.5" y="525.19" font-size="13.6" textLength="18.7" lengthAdjust="spacingAndGlyphs" fill="#0a0a0a">C10</text>
<text x="366.9" y="522.09" font-size="13.6" textLength="34.7" lengthAdjust="spacing" fill="#0a0a0a">4.7µF</text>
<text x="364.7" y="536.89" font-size="13.6" textLength="19.5" lengthAdjust="spacingAndGlyphs" fill="#0a0a0a">16V</text>
<text x="216" y="598.09" font-size="13.6" textLength="25.8" lengthAdjust="spacingAndGlyphs" fill="#0a0a0a">E212</text>
<text x="461.1" y="611.89" font-size="13.6" textLength="39.1" lengthAdjust="spacingAndGlyphs" fill="#0a0a0a">2N4402</text>
<text x="393.8" y="653.99" font-size="13.6" textLength="13.4" lengthAdjust="spacingAndGlyphs" fill="#0a0a0a">C8</text>
<text x="409.4" y="664.49" font-size="13.6" textLength="26" lengthAdjust="spacingAndGlyphs" fill="#0a0a0a">10pF</text>
<text x="339.6" y="672.99" font-size="13.6" textLength="14.3" lengthAdjust="spacingAndGlyphs" fill="#0a0a0a">C7</text>
<text x="363.8" y="669.09" font-size="13.6" textLength="31.3" lengthAdjust="spacingAndGlyphs" fill="#0a0a0a">20 pF</text>
<text x="246.2" y="678.09" font-size="13.6" textLength="19.1" lengthAdjust="spacingAndGlyphs" fill="#0a0a0a">R17</text>
<text x="242.7" y="693.69" font-size="13.6" textLength="37" lengthAdjust="spacingAndGlyphs" fill="#0a0a0a">60 .4Ω</text>
<text x="250.6" y="729.19" font-size="13.6" textLength="21.6" lengthAdjust="spacingAndGlyphs" fill="#0a0a0a">VR2</text>
<text x="246.9" y="743.09" font-size="13.6" textLength="28.8" lengthAdjust="spacingAndGlyphs" fill="#0a0a0a">500Ω</text>
<text x="59.8" y="719.19" font-size="13.6" textLength="19.1" lengthAdjust="spacingAndGlyphs" fill="#0a0a0a">R15</text>
<text x="64.2" y="736.59" font-size="13.6" textLength="16" lengthAdjust="spacingAndGlyphs" fill="#0a0a0a">1M</text>
<text x="139.6" y="723.99" font-size="13.6" textLength="13" lengthAdjust="spacingAndGlyphs" fill="#0a0a0a">C6</text>
<text x="130" y="746.49" font-size="13.6" textLength="25.2" lengthAdjust="spacingAndGlyphs" fill="#0a0a0a">20pF</text>
<text x="369" y="713.39" font-size="13.6" textLength="20.9" lengthAdjust="spacingAndGlyphs" fill="#0a0a0a">R19</text>
<text x="364.7" y="741.49" font-size="13.6" textLength="32.5" lengthAdjust="spacing" fill="#0a0a0a">4.7M</text>
<text x="393.8" y="764.49" font-size="13.6" textLength="13.4" lengthAdjust="spacingAndGlyphs" fill="#0a0a0a">C9</text>
<text x="409" y="754.09" font-size="13.6" textLength="24" lengthAdjust="spacingAndGlyphs" fill="#0a0a0a">10pF</text>
<text x="216.7" y="820.89" font-size="13.6" textLength="24.7" lengthAdjust="spacingAndGlyphs" fill="#0a0a0a">E175</text>
<text x="462" y="809.89" font-size="13.6" textLength="37" lengthAdjust="spacingAndGlyphs" fill="#0a0a0a">2N4401</text>
<text x="225.1" y="880.19" font-size="13.6" textLength="18.2" lengthAdjust="spacingAndGlyphs" fill="#0a0a0a">R18</text>
<text x="215.2" y="893.69" font-size="13.6" textLength="28.1" lengthAdjust="spacingAndGlyphs" fill="#0a0a0a">100Ω</text>
<text x="409.4" y="877.19" font-size="13.6" textLength="19.5" lengthAdjust="spacingAndGlyphs" fill="#0a0a0a">R21</text>
<text x="405" y="891.49" font-size="13.6" textLength="22.6" lengthAdjust="spacingAndGlyphs" fill="#0a0a0a">20Ω</text>
<text x="304" y="880.19" font-size="13.6" textLength="18.7" lengthAdjust="spacingAndGlyphs" fill="#0a0a0a">C11</text>
<text x="297.5" y="893.19" font-size="13.6" textLength="33.8" lengthAdjust="spacing" fill="#0a0a0a">4.7µF</text>
<text x="304" y="906.69" font-size="13.6" textLength="18.7" lengthAdjust="spacingAndGlyphs" fill="#0a0a0a">16V</text>
<text x="317" y="739.39" font-size="13.6" textLength="15.2" lengthAdjust="spacingAndGlyphs" fill="#0a0a0a">-IN</text>
<text x="476.8" y="703.89" font-size="13.6" textLength="24.7" lengthAdjust="spacingAndGlyphs" fill="#0a0a0a">OUT</text>
<text x="338.7" y="937.99" font-size="13.6" textLength="23.8" lengthAdjust="spacingAndGlyphs" fill="#0a0a0a">-15V</text>
</svg>
</body></html>
